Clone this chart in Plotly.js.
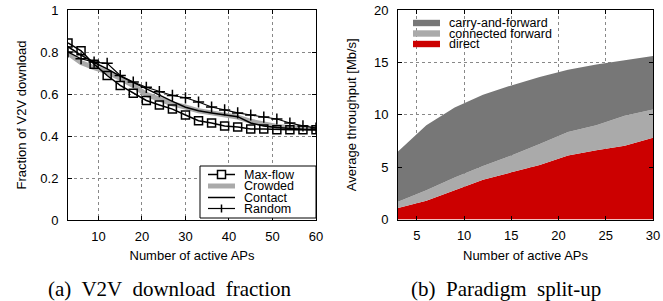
<!DOCTYPE html>
<html>
<head>
<meta charset="utf-8">
<script src="https://cdn.plot.ly/plotly-3.0.1.min.js"></script>
<style>
html,body{margin:0;padding:0;background:#fff;}
#chart{width:663px;height:301px;}
</style>
</head>
<body>
<div id="chart"></div>
<script>
// ---- Data: (a) V2V download fraction ----
const apsA = [3,6,9,12,15,18,21,24,27,30,33,36,39,42,45,48,51,54,57,60];
const maxFlow = [0.843,0.806,0.742,0.688,0.641,0.604,0.569,0.548,0.528,0.500,0.473,0.462,0.448,0.443,0.433,0.433,0.430,0.430,0.430,0.430];
const crowded = [0.795,0.750,0.725,0.705,0.675,0.640,0.598,0.575,0.553,0.538,0.520,0.510,0.500,0.490,0.470,0.455,0.445,0.440,0.438,0.436];
const contact = [0.825,0.785,0.750,0.720,0.685,0.655,0.623,0.595,0.565,0.537,0.520,0.510,0.500,0.492,0.462,0.448,0.440,0.435,0.432,0.430];
const random = [0.800,0.768,0.752,0.746,0.688,0.657,0.632,0.611,0.593,0.582,0.562,0.538,0.524,0.510,0.500,0.490,0.481,0.462,0.448,0.438];

// ---- Data: (b) Paradigm split-up (stacked components, Mb/s) ----
const apsB = [3,6,9,12,15,18,21,24,27,30];
const direct = [1.1,1.8,2.8,3.8,4.5,5.2,6.1,6.6,7.05,7.8];
const connectedForward = [0.6,1.0,1.2,1.3,1.6,2.0,2.25,2.4,2.85,2.7];
const carryAndForward = [4.8,6.2,6.7,6.8,6.7,6.4,5.95,5.8,5.3,5.1];

const W = 663, H = 301;
const px = x => x / W;
const py = y => 1 - y / H;

const FONT = "Liberation Sans, Arial, sans-serif";
const SERIF = "Liberation Serif, Times New Roman, serif";
const C_DARK = "#777777", C_LIGHT = "#aaaaaa", C_RED = "#cc0000";

const traces = [
  {x: apsA, y: crowded, name: "Crowded", mode: "lines", line: {color: C_LIGHT, width: 5}, xaxis: "x", yaxis: "y"},
  {x: apsA, y: contact, name: "Contact", mode: "lines", line: {color: "#000", width: 1.5}, xaxis: "x", yaxis: "y"},
  {x: apsA, y: random, name: "Random", mode: "lines+markers", line: {color: "#000", width: 1.2},
   marker: {symbol: "cross-thin-open", size: 8, line: {color: "#000", width: 1.5}}, xaxis: "x", yaxis: "y"},
  {x: apsA, y: maxFlow, name: "Max-flow", mode: "lines+markers", line: {color: "#000", width: 1.5},
   marker: {symbol: "square-open", size: 8, color: "#000", line: {color: "#000", width: 1.5}}, xaxis: "x", yaxis: "y"},
  {x: apsB, y: direct, name: "direct", stackgroup: "one", mode: "none", fillcolor: C_RED, xaxis: "x2", yaxis: "y2"},
  {x: apsB, y: connectedForward, name: "connected forward", stackgroup: "one", mode: "none", fillcolor: C_LIGHT, xaxis: "x2", yaxis: "y2"},
  {x: apsB, y: carryAndForward, name: "carry-and-forward", stackgroup: "one", mode: "none", fillcolor: C_DARK, xaxis: "x2", yaxis: "y2"}
];

const axisCommon = {
  showline: true, linecolor: "#000", linewidth: 1, mirror: "ticks",
  ticks: "inside", ticklen: 4, tickcolor: "#000", tickwidth: 1,
  showgrid: true, gridcolor: "#888", griddash: "dot", gridwidth: 1,
  zeroline: false, tickfont: {family: FONT, size: 13, color: "#000"},
  fixedrange: true
};

const shapes = [];
const annotations = [];
const LEGFONT = {family: FONT, size: 12.5, color: "#000"};

// Legend (a)
shapes.push({type: "rect", xref: "paper", yref: "paper", x0: px(200), x1: px(316), y0: py(218), y1: py(166),
  line: {color: "#000", width: 1}, fillcolor: "#fff", layer: "above"});
const legA = [
  {name: "Max-flow", y: 174.5},
  {name: "Crowded", y: 186},
  {name: "Contact", y: 197.5},
  {name: "Random", y: 208.5}
];
shapes.push({type: "line", xref: "paper", yref: "paper", x0: px(208), x1: px(235), y0: py(174.5), y1: py(174.5), line: {color: "#000", width: 1.5}});
shapes.push({type: "rect", xref: "paper", yref: "paper", x0: px(217.5), x1: px(225.5), y0: py(178.5), y1: py(170.5), line: {color: "#000", width: 1.5}, fillcolor: "#fff"});
shapes.push({type: "line", xref: "paper", yref: "paper", x0: px(208), x1: px(235), y0: py(186), y1: py(186), line: {color: C_LIGHT, width: 5}});
shapes.push({type: "line", xref: "paper", yref: "paper", x0: px(208), x1: px(235), y0: py(197.5), y1: py(197.5), line: {color: "#000", width: 1.5}});
shapes.push({type: "line", xref: "paper", yref: "paper", x0: px(208), x1: px(235), y0: py(208.5), y1: py(208.5), line: {color: "#000", width: 1.2}});
shapes.push({type: "line", xref: "paper", yref: "paper", x0: px(221.5), x1: px(221.5), y0: py(212.5), y1: py(204.5), line: {color: "#000", width: 1.5}});
legA.forEach(e => annotations.push({xref: "paper", yref: "paper", x: px(243), y: py(e.y), xanchor: "left", yanchor: "middle",
  text: e.name, showarrow: false, borderpad: 0, font: LEGFONT}));

// Legend (b)
shapes.push({type: "rect", xref: "paper", yref: "paper", x0: px(399), x1: px(580), y0: py(51), y1: py(11),
  line: {width: 0}, fillcolor: "#fff", layer: "between"});
const legB = [
  {name: "carry-and-forward", y: 23, c: C_DARK},
  {name: "connected forward", y: 33.5, c: C_LIGHT},
  {name: "direct", y: 44, c: C_RED}
];
legB.forEach(e => {
  shapes.push({type: "rect", xref: "paper", yref: "paper", x0: px(413), x1: px(440), y0: py(e.y + 3.2), y1: py(e.y - 3.2),
    line: {width: 0}, fillcolor: e.c, layer: "above"});
  annotations.push({xref: "paper", yref: "paper", x: px(448), y: py(e.y), xanchor: "left", yanchor: "middle",
    text: e.name, showarrow: false, borderpad: 0, font: LEGFONT});
});

// Captions
annotations.push({xref: "paper", yref: "paper", x: px(170), y: py(289), xanchor: "center", yanchor: "middle",
  text: "(a)  V2V  download  fraction", showarrow: false, font: {family: SERIF, size: 21, color: "#000"}});
annotations.push({xref: "paper", yref: "paper", x: px(506), y: py(289), xanchor: "center", yanchor: "middle",
  text: "(b)  Paradigm  split-up", showarrow: false, font: {family: SERIF, size: 21, color: "#000"}});

const layout = {
  width: W, height: H,
  margin: {l: 0, r: 0, t: 0, b: 0, pad: 0},
  paper_bgcolor: "#fff", plot_bgcolor: "#fff",
  showlegend: false,
  xaxis: Object.assign({}, axisCommon, {
    domain: [px(68), px(316)], range: [3, 60], tickvals: [10,20,30,40,50,60], ticktext: ["10","20","30","40","50","60"],
    anchor: "y", ticklabelstandoff: 4,
    title: {text: "Number of active APs", font: {family: FONT, size: 13, color: "#000"}, standoff: 8}
  }),
  yaxis: Object.assign({}, axisCommon, {
    domain: [py(220), py(10)], range: [0, 1], tickvals: [0,0.2,0.4,0.6,0.8,1], ticktext: ["0","0.2","0.4","0.6","0.8","1"],
    anchor: "x", ticklabelstandoff: 6,
    title: {text: "Fraction of V2V download", font: {family: FONT, size: 13, color: "#000"}, standoff: 10}
  }),
  xaxis2: Object.assign({}, axisCommon, {
    domain: [px(398), px(653)], range: [3, 30], tickvals: [5,10,15,20,25,30], ticktext: ["5","10","15","20","25","30"],
    anchor: "y2", ticklabelstandoff: 4,
    title: {text: "Number of active APs", font: {family: FONT, size: 13, color: "#000"}, standoff: 8}
  }),
  yaxis2: Object.assign({}, axisCommon, {
    domain: [py(219.5), py(10)], range: [0, 20], tickvals: [0,5,10,15,20], ticktext: ["0","5","10","15","20"],
    anchor: "x2", ticklabelstandoff: 6,
    title: {text: "Average throughput [Mb/s]", font: {family: FONT, size: 13, color: "#000"}, standoff: 14}
  }),
  shapes: shapes,
  annotations: annotations
};

Plotly.newPlot("chart", traces, layout, {staticPlot: true, displayModeBar: false});
</script>
</body>
</html>
